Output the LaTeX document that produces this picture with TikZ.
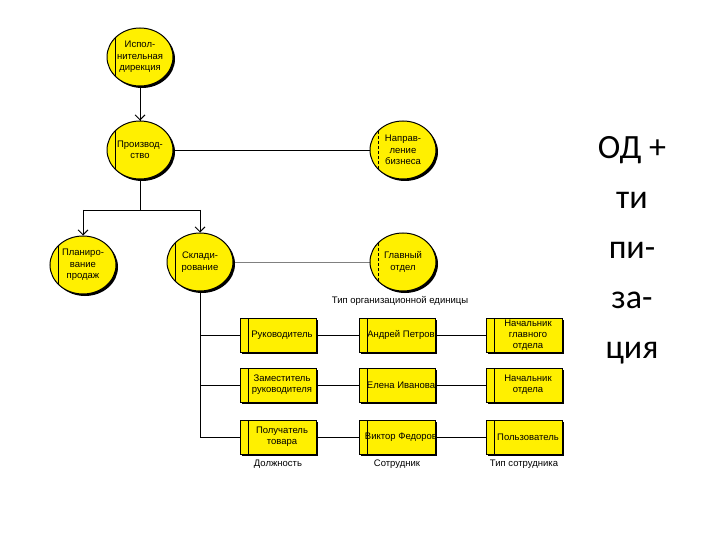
\documentclass[tikz,border=0pt]{standalone}
\usepackage{fontspec}
\setmainfont{Liberation Sans}
\newfontfamily\bigf{Carlito}
\usetikzlibrary{arrows.meta,shapes.geometric}
\definecolor{yel}{RGB}{255,240,0}
\tikzset{
 ell/.style={ellipse,fill=yel,draw=black,line width=1pt,minimum width=66pt,minimum height=58pt,inner sep=0pt,align=center,font=\fontsize{9.5}{11.5}\selectfont},
 bx/.style={rectangle,fill=yel,draw=black,line width=1pt,minimum width=76pt,minimum height=34pt,inner sep=1pt,align=center,font=\fontsize{9.5}{11}\selectfont},
 con/.style={line width=0.9pt},
 arr/.style={con,-{Straight Barb[length=5pt,width=10pt]}},
 lbl/.style={font=\fontsize{9.5}{11}\selectfont}
}
\newcommand{\shell}[4]{% name, x, y, text
 \fill[black] (#2+2,#3+2) ellipse (33pt and 29pt);
 \node[ell] (#1) at (#2,#3) {#4};
}
\newcommand{\shbox}[4]{%
 \fill[black] (#2-36,#3-15) rectangle (#2+40,#3+19);
 \node[bx] (#1) at (#2,#3) {};
 \node[align=center,inner sep=0pt,font=\fontsize{9.5}{11}\selectfont] (#1t) at (#2+4,#3) {#4};
 \draw[line width=0.8pt] (#2-30,#3-17) -- (#2-30,#3+17);
}
\begin{document}
\begin{tikzpicture}[x=1pt,y=-1pt]
\useasboundingbox (0,0) rectangle (720,540);
\fill[white] (0,0) rectangle (720,540);
\draw[con] (140,57) -- (140,150);
\draw[con] (140,150) -- (403,150);
\draw[con] (140,150) -- (140,210) coordinate (br);
\draw[con] (83,210) -- (200,210);
\draw[gray,line width=0.7pt] (200,262) -- (403,262);
\draw[con] (200,262) -- (200,437);
\foreach \y in {335,385,437} {\draw[con] (200,\y) -- (524,\y);}
\shell{exe}{140}{57}{Испол-\\нительная\\дирекция}
\shell{pro}{140}{150}{Производ-\\ство}
\shell{nap}{403}{150}{Направ-\\ление\\бизнеса}
\shell{pla}{83}{265}{Планиро-\\вание\\продаж}
\shell{skl}{200}{262}{Склади-\\рование}
\shell{gla}{403}{262}{Главный\\отдел}
\draw[arr] (exe) -- (pro);
\draw[arr] (83,210) -- (pla);
\draw[arr] (200,210) -- (skl);
\foreach \n/\x/\y/\s in {exe/140/57/solid,pro/140/150/solid,pla/83/265/solid,skl/200/262/solid,nap/403/150/densely dashed,gla/403/262/densely dashed}
  \draw[line width=0.8pt,\s] (\x-25,\y-19) -- (\x-25,\y+19);
\node[lbl] (tip) at (400,301) {Тип организационной единицы};
\shbox{b11}{278}{335}{Руководитель}
\shbox{b12}{397}{335}{Андрей Петров}
\shbox{b13}{524}{335}{Начальник\\главного\\отдела}
\shbox{b21}{278}{385}{Заместитель\\руководителя}
\shbox{b22}{397}{385}{Елена Иванова}
\shbox{b23}{524}{385}{Начальник\\отдела}
\shbox{b31}{278}{437}{Получатель\\товара}
\shbox{b32}{397}{437}{Виктор Федоров}
\shbox{b33}{524}{437}{Пользователь}
\node[lbl] (l1) at (278,464) {Должность};
\node[lbl] (l2) at (397,464) {Сотрудник};
\node[lbl] (l3) at (524,464) {Тип сотрудника};
\node[font=\bigf\fontsize{34}{50}\selectfont,align=center] (od) at (632,250) {ОД +\\ти\\пи-\\за-\\ция};
\end{tikzpicture}
\end{document}
